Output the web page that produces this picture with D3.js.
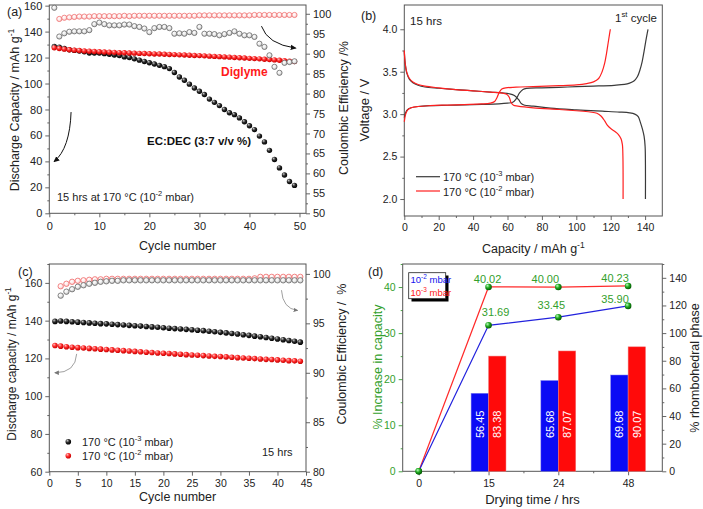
<!DOCTYPE html>
<html><head><meta charset="utf-8">
<script src="https://cdn.jsdelivr.net/npm/d3@7"></script>
<style>body{margin:0;background:#fff}svg{display:block}</style>
</head><body><svg id="c" width="703" height="509"></svg>
<script>
// ---------------- DATA ----------------
// Panel (a)
const cyclesA = [1,2,3,4,5,6,7,8,9,10,11,12,13,14,15,16,17,18,19,20,21,22,23,24,25,26,27,28,29,30,31,32,33,34,35,36,37,38,39,40,41,42,43,44,45,46,47,48,49];
const capEC = [128.5,128,127,126,125.5,125,124.5,123.5,123.5,123.5,123,122.5,122,121.5,120.5,120,119,118,117,116,115,114,113,111.5,108.5,105,102.5,99.5,96.5,94,91.5,88,85.5,83,80,77.5,76,73.5,70.5,67.5,64.5,59.5,55,48.5,41.5,35,29.5,24.5,21.5];
const capDig = [127.5,127,126.5,126,125.7,125.4,125.1,124.9,124.7,124.5,124.3,124.1,124,123.8,123.7,123.5,123.4,123.2,123.1,122.9,122.8,122.7,122.5,122.4,122.3,122.1,122,121.8,121.6,121.5,121.3,121.1,120.9,120.7,120.5,120.3,120.1,119.9,119.7,119.4,119.2,119,118.7,118.5,118.2,117.9,117.6,117.2,116.9];
const ceEC = [101.5,94.3,95.1,95.5,95.6,95.6,95.6,95.9,97.4,97.8,97.4,97.1,97.1,97.1,97.3,97.3,96.9,96.7,96.3,95.4,96.4,96.7,96.7,96.4,95.0,95.1,95.0,95.4,95.2,96.7,95.0,95.0,94.9,94.6,94.9,95.2,95.6,95.0,94.6,94.6,94.2,92.5,91.7,89.6,86.7,85.2,87.7,87.9,88.1];
const cyclesDigCE = [2,3,4,5,6,7,8,9,10,11,12,13,14,15,16,17,18,19,20,21,22,23,24,25,26,27,28,29,30,31,32,33,34,35,36,37,38,39,40,41,42,43,44,45,46,47,48,49];
const ceDig = [98.7,99.0,99.1,99.2,99.3,99.3,99.3,99.4,99.4,99.4,99.4,99.4,99.4,99.5,99.4,99.5,99.5,99.5,99.5,99.5,99.5,99.5,99.5,99.5,99.5,99.5,99.5,99.5,99.6,99.6,99.6,99.6,99.6,99.6,99.6,99.6,99.6,99.6,99.6,99.7,99.7,99.7,99.7,99.7,99.7,99.7,99.7,99.7];
const ticksA_x = [0,10,20,30,40,50];
const ticksA_y = [0,20,40,60,80,100,120,140,160];
const ticksA_y2 = [50,55,60,65,70,75,80,85,90,95,100];

// Panel (b): [capacity, voltage]
const blackCharge = [[0,2.96],[0.8,3.02],[2,3.055],[4,3.075],[8,3.09],[15,3.1],[25,3.105],[35,3.11],[45,3.115],[55,3.122],[60,3.13],[63,3.14],[65,3.18],[67,3.25],[69,3.29],[71,3.303],[80,3.31],[95,3.32],[110,3.33],[122,3.34],[128,3.35],[131,3.365],[133.5,3.39],[135.5,3.44],[137,3.52],[138.3,3.62],[139.4,3.74],[140.4,3.86],[141.2,3.95],[141.7,4.0]];
const redCharge = [[0,2.91],[0.8,3.0],[2,3.05],[4,3.075],[8,3.09],[15,3.1],[25,3.107],[35,3.113],[45,3.12],[50,3.13],[52.5,3.15],[54,3.2],[55.3,3.26],[56.7,3.295],[59,3.31],[65,3.318],[75,3.325],[90,3.335],[100,3.345],[106,3.36],[110,3.38],[113,3.42],[115,3.5],[116.5,3.6],[117.6,3.72],[118.6,3.85],[119.3,3.94],[119.8,4.0]];
const blackDis = [[0,3.74],[0.5,3.6],[1.5,3.48],[3,3.41],[5,3.37],[8,3.34],[12,3.32],[20,3.305],[30,3.29],[40,3.275],[50,3.26],[57,3.25],[61,3.24],[64,3.22],[66.5,3.17],[68,3.125],[70,3.105],[75,3.095],[85,3.07],[100,3.05],[115,3.035],[125,3.025],[131,3.015],[134,3.0],[136,2.97],[137.3,2.9],[138.5,2.82],[139.4,2.74],[140,2.62],[140.2,2.4],[140.2,2.0]];
const redDis = [[0,3.75],[0.5,3.6],[1.5,3.49],[3,3.42],[5,3.38],[8,3.35],[12,3.33],[20,3.31],[30,3.29],[40,3.275],[50,3.26],[56,3.25],[59.5,3.235],[61,3.2],[62,3.14],[63.5,3.105],[66,3.095],[75,3.075],[90,3.055],[100,3.04],[108,3.025],[112,3.01],[114.5,2.975],[116.5,2.92],[118,2.87],[120,2.83],[122.5,2.795],[124.5,2.76],[126,2.71],[126.8,2.64],[127.1,2.5],[127.2,2.3],[127.2,2.0]];
const ticksB_x = [0,20,40,60,80,100,120,140];
const ticksB_y = [2.0,2.5,3.0,3.5,4.0];

// Panel (c)
const cyclesC = [1,2,3,4,5,6,7,8,9,10,11,12,13,14,15,16,17,18,19,20,21,22,23,24,25,26,27,28,29,30,31,32,33,34,35,36,37,38,39,40,41,42,43,44];
const capC3 = [139.6,139.8,139.6,139.4,139.2,139.0,138.8,138.6,138.4,138.3,138.1,137.9,137.7,137.5,137.3,137.1,136.9,136.7,136.5,136.2,136.0,135.8,135.6,135.4,135.2,134.9,134.7,134.4,134.1,133.8,133.5,133.2,132.9,132.5,132.2,131.8,131.5,131.1,130.7,130.3,129.9,129.5,129.1,128.6];
const capC2 = [126.8,126.5,126.2,125.9,125.7,125.5,125.3,125.1,124.9,124.7,124.5,124.3,124.1,123.9,123.7,123.5,123.3,123.1,122.9,122.7,122.6,122.4,122.2,122.0,121.8,121.7,121.5,121.3,121.1,121.0,120.8,120.6,120.4,120.2,120.1,119.9,119.7,119.5,119.4,119.2,119.0,118.8,118.7,118.5];
const cyclesCE_C = [2,3,4,5,6,7,8,9,10,11,12,13,14,15,16,17,18,19,20,21,22,23,24,25,26,27,28,29,30,31,32,33,34,35,36,37,38,39,40,41,42,43,44];
const ceC3 = [97.8,98.2,98.45,98.7,98.85,99.0,99.1,99.2,99.25,99.3,99.3,99.35,99.35,99.35,99.35,99.35,99.35,99.35,99.35,99.35,99.35,99.35,99.35,99.35,99.35,99.35,99.35,99.35,99.35,99.35,99.35,99.35,99.35,99.35,99.35,99.35,99.35,99.35,99.35,99.35,99.35,99.35,99.35];
const ceC2 = [98.75,99.0,99.2,99.3,99.35,99.4,99.45,99.45,99.5,99.5,99.5,99.5,99.5,99.5,99.5,99.5,99.5,99.5,99.5,99.5,99.5,99.5,99.5,99.5,99.5,99.5,99.5,99.5,99.5,99.5,99.5,99.5,99.5,99.5,99.55,99.7,99.7,99.7,99.7,99.7,99.7,99.7,99.7];
const ticksC_x = [0,5,10,15,20,25,30,35,40,45];
const ticksC_y = [60,80,100,120,140,160];
const ticksC_y2 = [80,85,90,95,100];

// Panel (d)
const dryTimes = ['0','15','24','48'];
const incr2 = [0,31.69,33.45,35.90];   // 10^-2 mbar (blue)
const incr3 = [0,40.02,40.00,40.23];   // 10^-3 mbar (red)
const barTimes = ['15','24','48'];
const rhomb2 = [56.45,65.68,69.68];
const rhomb3 = [83.38,87.07,90.07];
const ticksD_y = [0,10,20,30,40];
const ticksD_y2 = [0,20,40,60,80,100,120,140];

// ---------------- SETUP ----------------
const FONT = '"Liberation Sans", Arial, Helvetica, sans-serif';
const svg = d3.select('#c').attr('font-family', FONT);
svg.append('rect').attr('width',703).attr('height',509).attr('fill','#fff');
const defs = svg.append('defs');
function sphere(id,c0,c1,c2){
  const g = defs.append('radialGradient').attr('id',id).attr('cx','0.4').attr('cy','0.38').attr('r','0.62').attr('fx','0.33').attr('fy','0.3');
  g.append('stop').attr('offset','0%').attr('stop-color',c0);
  g.append('stop').attr('offset','50%').attr('stop-color',c1);
  g.append('stop').attr('offset','100%').attr('stop-color',c2);
}
sphere('gBlack','#c8c8c8','#2a2a2a','#000');
sphere('gRed','#ffc0c0','#ff2a2a','#c80000');
sphere('gGreen','#c0ffc0','#22aa22','#005a00');
sphere('gOpenGray','#ffffff','#f0f0f0','#bdbdbd');
sphere('gOpenRed','#ffffff','#fff0f0','#f6c4c4');
function arrowMarker(id,color){
  defs.append('marker').attr('id',id).attr('viewBox','0 0 10 10').attr('refX',8).attr('refY',5)
    .attr('markerWidth',6).attr('markerHeight',6).attr('orient','auto')
    .append('path').attr('d','M0,0.5 L10,5 L0,9.5 Z').attr('fill',color);
}
arrowMarker('arB','#111');
arrowMarker('arG','#777');

const AX = '#555';
function axis(g, gen, tx, ty, o={}){
  const a = g.append('g').attr('transform',`translate(${tx},${ty})`).call(gen);
  a.select('.domain').remove();
  a.selectAll('line').attr('stroke', o.lc||AX).attr('stroke-width',0.9);
  a.selectAll('text').attr('font-size', o.fs||11).attr('fill', o.tc||'#222').attr('font-family',FONT);
  return a;
}
function minor(g, gen, tx, ty, o={}){
  const a = g.append('g').attr('transform',`translate(${tx},${ty})`).call(gen.tickSize(2).tickFormat(''));
  a.select('.domain').remove();
  a.selectAll('line').attr('stroke', o.lc||AX).attr('stroke-width',0.9);
  return a;
}
function frame(g,x,y){
  const [x0,x1]=x.range(), [y0,y1]=y.range();
  g.append('rect').attr('x',x0).attr('y',y1).attr('width',x1-x0).attr('height',y0-y1)
    .attr('fill','none').attr('stroke',AX).attr('stroke-width',1);
}
function rich(sel, str, fs){
  const parts = str.split(/(\^\{[^}]*\})/);
  let prevSup=false;
  parts.forEach(p=>{
    if(!p) return;
    if(p.startsWith('^{')){
      sel.append('tspan').attr('dy',-0.42*fs).attr('font-size',0.68*fs).text(p.slice(2,-1));
      prevSup=true;
    } else {
      const t = sel.append('tspan').text(p);
      if(prevSup) t.attr('dy',0.42*fs);
      prevSup=false;
    }
  });
  return sel;
}
function label(g,x,y,str,o={}){
  const fs=o.fs||12;
  const t=g.append('text').attr('x',x).attr('y',y).attr('font-size',fs)
    .attr('fill',o.fill||'#222').attr('text-anchor',o.anchor||'start')
    .attr('font-weight',o.bold?'bold':'normal').style('white-space','pre');
  if(o.rot) t.attr('transform',`rotate(${o.rot},${x},${y})`);
  rich(t,str,fs);
  return t;
}
function arrow(g, pts, marker, color, w){
  const [p0,p1,p2]=pts;
  g.append('path').attr('d',`M${p0[0]},${p0[1]} Q${p1[0]},${p1[1]} ${p2[0]},${p2[1]}`)
    .attr('fill','none').attr('stroke',color).attr('stroke-width',w).attr('marker-end',`url(#${marker})`);
}

// ---------------- PANEL (a) ----------------
{
const g = svg.append('g');
const x = d3.scaleLinear().domain([0,51.3]).range([49.3,306]);
const y = d3.scaleLinear().domain([0,160.5]).range([213.3,5]);
const y2 = d3.scaleLinear().domain([50,102.2]).range([213.3,5]);
const by=y.range()[0], lx=x.range()[0], rx=x.range()[1];
minor(g, d3.axisBottom(x).tickValues([5,15,25,35,45]), 0, by);
axis(g, d3.axisBottom(x).tickValues(ticksA_x).tickSize(4).tickPadding(5), 0, by);
minor(g, d3.axisLeft(y).tickValues([10,30,50,70,90,110,130,150]), lx, 0);
axis(g, d3.axisLeft(y).tickValues(ticksA_y).tickSize(4), lx, 0);
minor(g, d3.axisRight(y2).tickValues([52.5,57.5,62.5,67.5,72.5,77.5,82.5,87.5,92.5,97.5]), rx, 0);
axis(g, d3.axisRight(y2).tickValues(ticksA_y2).tickSize(4), rx, 0);
frame(g,x,y);
const R=2.7;
g.append('g').selectAll('circle').data(capEC).join('circle')
  .attr('cx',(d,i)=>x(cyclesA[i])).attr('cy',d=>y(d)).attr('r',R).attr('fill','url(#gBlack)');
g.append('g').selectAll('circle').data(capDig).join('circle')
  .attr('cx',(d,i)=>x(cyclesA[i])).attr('cy',d=>y(d)).attr('r',R).attr('fill','url(#gRed)');
g.append('g').selectAll('circle').data(ceDig).join('circle')
  .attr('cx',(d,i)=>x(cyclesDigCE[i])).attr('cy',d=>y2(d)).attr('r',2.6)
  .attr('fill','url(#gOpenRed)').attr('stroke','#f07070').attr('stroke-width',0.8);
g.append('g').selectAll('circle').data(ceEC).join('circle')
  .attr('cx',(d,i)=>x(cyclesA[i])).attr('cy',d=>y2(d)).attr('r',2.6)
  .attr('fill','url(#gOpenGray)').attr('stroke','#6a6a6a').attr('stroke-width',0.8);
label(g,7,16,'(a)',{fs:12.5});
label(g,221,76,'Diglyme',{fs:12,bold:true,fill:'#ff1a1a'});
label(g,147,145,'EC:DEC (3:7 v/v %)',{fs:11.5,bold:true,fill:'#111'});
label(g,57,201,'15 hrs at 170 °C (10^{-2} mbar)',{fs:11});
arrow(g, [[x(4.35),y(78)],[x(4.1),y(50)],[x(1),y(40)]], 'arB','#111',1);
arrow(g, [[x(42.4),y2(96.9)],[x(43.6),y2(92.4)],[x(49.2),y2(91.4)]], 'arB','#111',1);
label(g,19,110,'Discharge Capacity / mAh g^{-1}',{fs:12.5,rot:-90,anchor:'middle'});
label(g,348,108,'Coulombic Efficiency /%',{fs:12.5,rot:-90,anchor:'middle'});
label(g,(lx+rx)/2,250,'Cycle number',{fs:12.5,anchor:'middle'});
}

// ---------------- PANEL (b) ----------------
{
const g = svg.append('g');
const x = d3.scaleLinear().domain([0,150]).range([404.3,662.3]);
const y = d3.scaleLinear().domain([1.8,4.286]).range([216,5]);
const by=y.range()[0], lx=x.range()[0], rx=x.range()[1];
minor(g, d3.axisBottom(x).tickValues([10,30,50,70,90,110,130]), 0, by);
axis(g, d3.axisBottom(x).tickValues(ticksB_x).tickSize(4).tickPadding(4), 0, by, {fs:10.5});
minor(g, d3.axisLeft(y).tickValues([2.25,2.75,3.25,3.75]), lx, 0);
axis(g, d3.axisLeft(y).tickValues(ticksB_y).tickSize(4).tickFormat(d3.format('.1f')), lx, 0, {fs:10.5});
frame(g,x,y);
const line = d3.line().x(d=>x(d[0])).y(d=>y(d[1])).curve(d3.curveCatmullRom.alpha(0.5));
[[blackCharge,'#3a3a3a'],[blackDis,'#3a3a3a'],[redCharge,'#ff2020'],[redDis,'#ff2020']].forEach(([d,c])=>{
  g.append('path').attr('d',line(d)).attr('fill','none').attr('stroke',c).attr('stroke-width',1.2);
});
label(g,361,20,'(b)',{fs:12.5});
label(g,410,25,'15 hrs',{fs:11.5});
label(g,615,22,'1^{st} cycle',{fs:11.5});
g.append('line').attr('x1',416).attr('x2',440).attr('y1',176.7).attr('y2',176.7).attr('stroke','#3a3a3a').attr('stroke-width',1.2);
g.append('line').attr('x1',416).attr('x2',440).attr('y1',191).attr('y2',191).attr('stroke','#ff2020').attr('stroke-width',1.2);
label(g,443,181,'170 °C (10^{-3} mbar)',{fs:11});
label(g,443,195.5,'170 °C (10^{-2} mbar)',{fs:11});
label(g,369,110,'Voltage / V',{fs:13,rot:-90,anchor:'middle'});
label(g,(lx+rx)/2,253,'Capacity / mAh g^{-1}',{fs:12.5,anchor:'middle'});
}

// ---------------- PANEL (c) ----------------
{
const g = svg.append('g');
const x = d3.scaleLinear().domain([0,45]).range([49.3,306]);
const y = d3.scaleLinear().domain([60,170]).range([471.7,264]);
const y2 = d3.scaleLinear().domain([80,101]).range([471.7,264]);
const by=y.range()[0], lx=x.range()[0], rx=x.range()[1];
axis(g, d3.axisBottom(x).tickValues(ticksC_x).tickSize(4).tickPadding(4), 0, by, {fs:10.5});
minor(g, d3.axisLeft(y).tickValues([70,90,110,130,150,170]), lx, 0);
axis(g, d3.axisLeft(y).tickValues(ticksC_y).tickSize(4), lx, 0, {fs:10.5});
minor(g, d3.axisRight(y2).tickValues([82.5,87.5,92.5,97.5]), rx, 0);
axis(g, d3.axisRight(y2).tickValues(ticksC_y2).tickSize(4), rx, 0, {fs:10.5});
frame(g,x,y);
const R=2.8;
g.append('g').selectAll('circle').data(capC3).join('circle')
  .attr('cx',(d,i)=>x(cyclesC[i])).attr('cy',d=>y(d)).attr('r',R).attr('fill','url(#gBlack)');
g.append('g').selectAll('circle').data(capC2).join('circle')
  .attr('cx',(d,i)=>x(cyclesC[i])).attr('cy',d=>y(d)).attr('r',R).attr('fill','url(#gRed)');
g.append('g').selectAll('circle').data(ceC2).join('circle')
  .attr('cx',(d,i)=>x(cyclesCE_C[i])).attr('cy',d=>y2(d)).attr('r',2.7)
  .attr('fill','url(#gOpenRed)').attr('stroke','#f06a6a').attr('stroke-width',0.8);
g.append('g').selectAll('circle').data(ceC3).join('circle')
  .attr('cx',(d,i)=>x(cyclesCE_C[i])).attr('cy',d=>y2(d)).attr('r',2.7)
  .attr('fill','url(#gOpenGray)').attr('stroke','#6a6a6a').attr('stroke-width',0.8);
label(g,18,276,'(c)',{fs:12.5});
g.append('circle').attr('cx',68.3).attr('cy',441.7).attr('r',R).attr('fill','url(#gBlack)');
g.append('circle').attr('cx',68.3).attr('cy',455.7).attr('r',R).attr('fill','url(#gRed)');
label(g,82,445.5,'170 °C (10^{-3} mbar)',{fs:11});
label(g,82,459.5,'170 °C (10^{-2} mbar)',{fs:11});
label(g,262,455.5,'15 hrs',{fs:11});
arrow(g, [[x(4.8),y(122.4)],[x(4.6),y(112.4)],[x(1),y(112.4)]], 'arG','#888',0.8);
arrow(g, [[x(40.7),y2(98.35)],[x(40.9),y2(96.5)],[x(43.5),y2(96.3)]], 'arG','#888',0.8);
label(g,16,364,'Discharge capacity / mAh g^{-1}',{fs:12,rot:-90,anchor:'middle'});
label(g,346,354,'Coulombic Efficiency /  %',{fs:12.5,rot:-90,anchor:'middle'});
label(g,(lx+rx)/2,501,'Cycle number',{fs:12.5,anchor:'middle'});
}

// ---------------- PANEL (d) ----------------
{
const g = svg.append('g');
const GREEN = '#33a02c';
const x = d3.scaleLinear().domain([-0.23,3.49]).range([402.7,662.3]);
const y = d3.scaleLinear().domain([0,45]).range([471.3,264]);
const y2 = d3.scaleLinear().domain([0,150]).range([471.3,264]);
const by=y.range()[0], lx=x.range()[0], rx=x.range()[1];
const idx = t => dryTimes.indexOf(t);
minor(g, d3.axisBottom(x).tickValues([0.5,1.5,2.5]), 0, by);
axis(g, d3.axisBottom(x).tickValues([0,1,2,3]).tickFormat(i=>dryTimes[i]).tickSize(4).tickPadding(4), 0, by, {fs:10.5});
minor(g, d3.axisLeft(y).tickValues([5,15,25,35,45]), lx, 0, {lc:GREEN});
axis(g, d3.axisLeft(y).tickValues(ticksD_y).tickSize(4), lx, 0, {fs:10.5, tc:GREEN, lc:GREEN});
minor(g, d3.axisRight(y2).tickValues([10,30,50,70,90,110,130,150]), rx, 0);
axis(g, d3.axisRight(y2).tickValues(ticksD_y2).tickSize(4), rx, 0, {fs:10.5});
frame(g,x,y);
const bw = x(0.25)-x(0);
const bars = g.append('g');
barTimes.forEach((t,i)=>{
  const cx = x(idx(t));
  bars.append('rect').attr('x',cx-bw).attr('y',y2(rhomb2[i])).attr('width',bw).attr('height',by-y2(rhomb2[i]))
    .attr('fill','#0a0af5').attr('stroke','#7f7ff0').attr('stroke-width',0.5);
  bars.append('rect').attr('x',cx).attr('y',y2(rhomb3[i])).attr('width',bw).attr('height',by-y2(rhomb3[i]))
    .attr('fill','#ff0a0a').attr('stroke','#f08080').attr('stroke-width',0.5);
  [[cx-bw/2,rhomb2[i]],[cx+bw/2,rhomb3[i]]].forEach(([px,v])=>{
    g.append('text').attr('transform',`translate(${px+4},${y2(34)}) rotate(-90)`)
      .attr('text-anchor','middle').attr('font-size',11).attr('fill','#fff').text(d3.format('.2f')(v));
  });
});
const line = d3.line().x((d,i)=>x(i)).y(d=>y(d));
g.append('path').attr('d',line(incr3)).attr('fill','none').attr('stroke','#ff2a2a').attr('stroke-width',1.2);
g.append('path').attr('d',line(incr2)).attr('fill','none').attr('stroke','#2222dd').attr('stroke-width',1.2);
[incr3,incr2].forEach(arr=>{
  g.append('g').selectAll('circle').data(arr).join('circle')
    .attr('cx',(d,i)=>x(i)).attr('cy',d=>y(d)).attr('r',3.3).attr('fill','url(#gGreen)');
});
// value label offsets (layout only)
const offs3 = [null,[-1,-4],[-13,-4],[-13,-4]];
const offs2 = [null,[7,-9],[-7,-8],[-13,-3]];
[[incr3,offs3],[incr2,offs2]].forEach(([arr,off])=>{
  arr.forEach((v,i)=>{
    if(!off[i]) return;
    g.append('text').attr('x',x(i)+off[i][0]).attr('y',y(v)+off[i][1]).attr('text-anchor','middle')
      .attr('font-size',11).attr('fill',GREEN).text(d3.format('.2f')(v));
  });
});
// legend
g.append('rect').attr('x',411.5).attr('y',275.5).attr('width',37).attr('height',26).attr('fill','#000');
g.append('rect').attr('x',408.7).attr('y',272.7).attr('width',37).attr('height',26).attr('fill','#fff').attr('stroke','#222').attr('stroke-width',0.8);
label(g,410.5,283,'10^{-2} mbar',{fs:9.5,fill:'#1515ee'});
label(g,410.5,296,'10^{-3} mbar',{fs:9.5,fill:'#ff1a1a'});
label(g,368,276,'(d)',{fs:12.5});
label(g,382,367,'% Increase in capacity',{fs:12.5,rot:-90,anchor:'middle',fill:GREEN});
label(g,699,368,'% rhombohedral phase',{fs:12.5,rot:-90,anchor:'middle'});
label(g,(lx+rx)/2,504,'Drying time / hrs',{fs:13,anchor:'middle'});
}
</script></body></html>
